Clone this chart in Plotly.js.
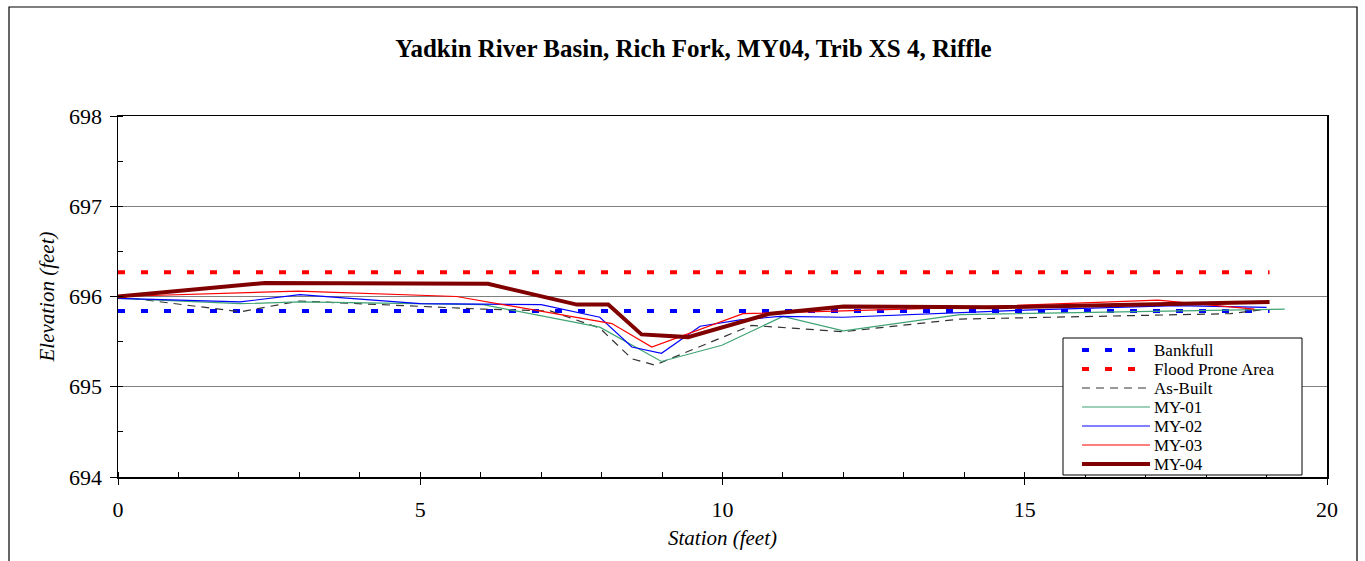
<!DOCTYPE html>
<html><head><meta charset="utf-8">
<script src="https://cdn.plot.ly/plotly-3.0.1.min.js"></script>
<style>html,body{margin:0;padding:0;background:#fff}#chart{width:1365px;height:561px}</style>
</head><body><div id="chart"></div>
<script>
// Data
const bankfullX = [0, 19.05];
const bankfullY = [695.84, 695.84];
const floodX = [0, 19.05];
const floodY = [696.27, 696.27];
const asBuiltX = [0, 2.02, 3.0, 6.04, 7.15, 7.97, 8.5, 8.88, 10.48, 12.0, 13.93, 18.4, 19.0];
const asBuiltY = [696.0, 695.83, 695.95, 695.86, 695.84, 695.65, 695.31, 695.24, 695.68, 695.61, 695.75, 695.81, 695.86];
const my01X = [0, 2.02, 3.0, 6.04, 7.97, 8.99, 9.99, 11.0, 12.0, 13.93, 19.3];
const my01Y = [695.98, 695.92, 695.94, 695.91, 695.66, 695.28, 695.46, 695.78, 695.62, 695.80, 695.86];
const my02X = [0, 2.02, 3.01, 5.0, 7.0, 7.97, 8.5, 8.99, 9.63, 10.29, 10.95, 12.0, 15.0, 17.5, 19.0];
const my02Y = [695.98, 695.94, 696.02, 695.92, 695.91, 695.77, 695.44, 695.37, 695.67, 695.74, 695.78, 695.77, 695.85, 695.90, 695.88];
const my03X = [0, 2.98, 5.6, 8.17, 8.83, 10.34, 12.0, 14.0, 17.2, 18.8];
const my03Y = [696.0, 696.06, 696.0, 695.70, 695.44, 695.81, 695.84, 695.88, 695.96, 695.86];
const my04X = [0, 2.43, 6.12, 7.59, 8.11, 8.66, 9.43, 10.79, 12.0, 14.5, 19.05];
const my04Y = [696.0, 696.15, 696.14, 695.91, 695.91, 695.58, 695.55, 695.81, 695.89, 695.88, 695.94];
const seriesNames = ['Bankfull', 'Flood Prone Area', 'As-Built', 'MY-01', 'MY-02', 'MY-03', 'MY-04'];
const xTickVals = [0, 5, 10, 15, 20];
const yTickVals = [694, 695, 696, 697, 698];

const serif = 'Liberation Serif, Times New Roman, serif';

const styles = [
  {color: '#0000FF', width: 4, dash: '7px,16px'},
  {color: '#FF0000', width: 4, dash: '7px,16px'},
  {color: '#333333', width: 1.2, dash: '8px,6px'},
  {color: '#3FA374', width: 1.2, dash: 'solid'},
  {color: '#0000FF', width: 1.2, dash: 'solid'},
  {color: '#FF0000', width: 1.2, dash: 'solid'},
  {color: '#800000', width: 4, dash: 'solid'}
];
const xs = [bankfullX, floodX, asBuiltX, my01X, my02X, my03X, my04X];
const ys = [bankfullY, floodY, asBuiltY, my01Y, my02Y, my03Y, my04Y];

const traces = seriesNames.map((n, i) => ({
  name: n, x: xs[i], y: ys[i], mode: 'lines', line: styles[i], showlegend: false
}));

const ml = 118, mr = 38, mt = 116, mb = 84;
const pw = 1365 - ml - mr, ph = 561 - mt - mb;
const px2x = p => (p - ml) / pw;
const px2y = p => (561 - mb - p) / ph;

// Legend box (drawn with shapes + annotations)
const legRowY = [350, 369, 388, 407, 426, 445, 464];
const shapes = [
  {type: 'rect', xref: 'paper', yref: 'paper',
   x0: px2x(9), x1: px2x(1357), y0: px2y(600), y1: px2y(7),
   line: {color: '#000', width: 1.2}, fillcolor: 'rgba(0,0,0,0)', layer: 'below'},
  {type: 'rect', xref: 'paper', yref: 'paper',
   x0: px2x(1063), x1: px2x(1302), y0: px2y(475), y1: px2y(338),
   line: {color: '#000', width: 1}, fillcolor: '#FFFFFF', layer: 'above'}
];
const annotations = [];
seriesNames.forEach((n, i) => {
  shapes.push({type: 'line', xref: 'paper', yref: 'paper',
    x0: px2x(1082), x1: px2x(1150), y0: px2y(legRowY[i]), y1: px2y(legRowY[i]),
    line: {color: styles[i].color, width: styles[i].width, dash: styles[i].dash}, layer: 'above'});
  annotations.push({text: n, xref: 'paper', yref: 'paper', x: px2x(1153), y: px2y(legRowY[i]),
    xanchor: 'left', yanchor: 'middle', showarrow: false, borderpad: 0,
    font: {family: serif, size: 17, color: '#000'}});
});

const layout = {
  width: 1365, height: 561,
  margin: {l: ml, r: mr, t: mt, b: mb},
  paper_bgcolor: '#FFFFFF', plot_bgcolor: '#FFFFFF',
  font: {family: serif, color: '#000000', size: 20},
  title: {text: '<b>Yadkin River Basin, Rich Fork, MY04, Trib XS 4, Riffle</b>',
          font: {family: serif, size: 25, color: '#000'},
          x: 0.508, xref: 'container', xanchor: 'center',
          y: 1 - 48 / 561, yref: 'container', yanchor: 'middle'},
  showlegend: false,
  xaxis: {range: [0, 20], tickvals: xTickVals, ticktext: xTickVals.map(String),
          showgrid: false, zeroline: false,
          showline: true, linecolor: '#000', linewidth: 1.5, mirror: true,
          ticks: 'outside', ticklen: 6, tickcolor: '#000', tickwidth: 1,
          ticklabelstandoff: 6,
          minor: {dtick: 1, ticks: 'inside', ticklen: 5, tickcolor: '#000', showgrid: false},
          tickfont: {family: serif, size: 22},
          title: {text: '<i>Station (feet)</i>', font: {family: serif, size: 21}, standoff: 9}},
  yaxis: {range: [694, 698], tickvals: yTickVals, ticktext: yTickVals.map(String),
          showgrid: true, gridcolor: '#808080', gridwidth: 1, zeroline: false,
          showline: true, linecolor: '#000', linewidth: 1.5, mirror: true,
          ticks: 'outside', ticklen: 7, tickcolor: '#000', tickwidth: 1,
          ticklabelstandoff: 3,
          minor: {dtick: 0.5, ticks: 'inside', ticklen: 5, tickcolor: '#000', showgrid: false},
          tickfont: {family: serif, size: 22},
          title: {text: '<i>Elevation (feet)</i>', font: {family: serif, size: 21}, standoff: 8}},
  shapes: shapes,
  annotations: annotations
};

Plotly.newPlot('chart', traces, layout, {displayModeBar: false, staticPlot: true});
</script>
</body></html>
